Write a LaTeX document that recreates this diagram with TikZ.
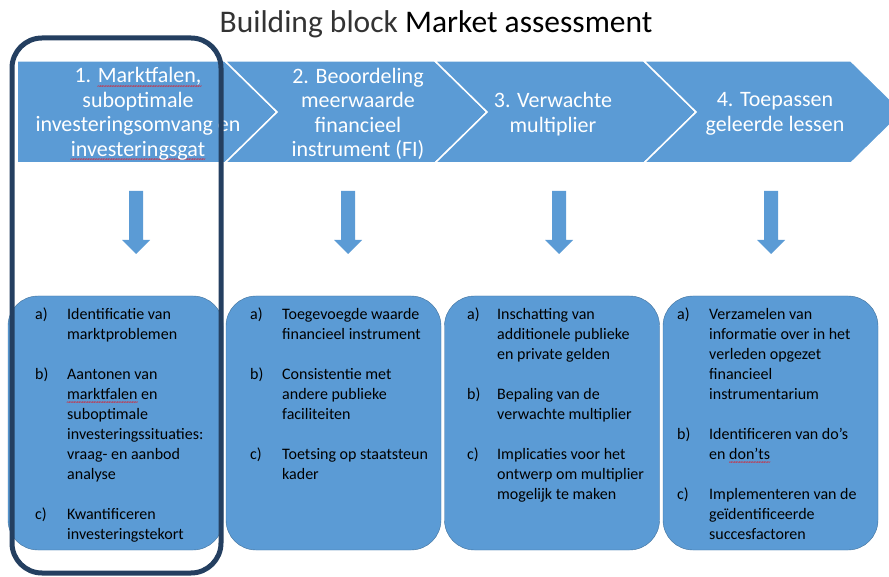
\documentclass[tikz,border=0pt]{standalone}
\usepackage{fontspec}
\setmainfont{Carlito}
\usepackage{tikz}
\usetikzlibrary{positioning}
\definecolor{blockblue}{RGB}{91,155,213}
\definecolor{blockedge}{RGB}{65,113,156}
\definecolor{framenavy}{RGB}{36,63,96}
% red wavy spell-check line under a word
\newcommand{\spellmark}[2]{\setbox0\hbox{\textcolor{#1}{#2}}\rlap{\textcolor{red}{\raisebox{-5.5pt}[0pt][0pt]{\hbox to \wd0{\xleaders\hbox{\fontsize{7}{7}\selectfont\kern-0.5pt\char`\~\kern-0.5pt}\hfill}}}}\box0\relax}

\begin{document}
\begin{tikzpicture}[x=1pt, y=-1pt,
				chevron/.style={fill=blockblue, draw=white, line width=1.5pt},
				steptext/.style={text=white, font=\fontsize{22}{24.5}\selectfont, align=center, inner sep=0pt},
				itembox/.style={draw=blockedge, fill=blockblue, rounded corners=30pt, minimum width=215pt, minimum height=254pt},
				itemtext/.style={anchor=north west, inner sep=0pt, font=\fontsize{16}{20}\selectfont},
				focus/.style={draw=framenavy, line width=5pt, rounded corners=30pt}]
				\useasboundingbox (0,0) rectangle (889,577);
				
				\node[font=\fontsize{31.5}{36}\selectfont, anchor=base](title) at (436,33) {\textcolor{black!80}{Building block} Market assessment};
				
				% process band
				\draw[chevron] (17,61) -- (225,61) -- (277,112) -- (225,163) -- (17,163) -- cycle;
				\foreach \a/\b in {225/435, 435/644, 644/851}
					\draw[chevron] (\a,61) -- (\b,61) -- (\b+52,112) -- (\b,163) -- (\a,163) -- (\a+52,112) -- cycle;
				
				\node[steptext](step1) at (138,114) {1. \spellmark{white}{Marktfalen,}\\suboptimale\\investeringsomvang en\\\spellmark{white}{investeringsgat}};
				\node[steptext](step2) at (358,114) {2. Beoordeling\\meerwaarde\\financieel\\instrument (FI)};
				\node[steptext](step3) at (553,114) {3. Verwachte\\multiplier};
				\node[steptext](step4) at (775,114) {4. Toepassen\\geleerde lessen};
				
				\foreach \x in {136, 348, 559, 771}
					\fill[blockblue] (\x-7,191) -- (\x+7,191) -- (\x+7,240) -- (\x+14,240) -- (\x,254) -- (\x-14,240) -- (\x-7,240) -- cycle;
				
				% boxes below
				\node[itembox](box1) at (115.5,423) {};
				\node[itembox](box2) at (333.5,423) {};
				\node[itembox](box3) at (552,423) {};
				\node[itembox](box4) at (770.5,423) {};
				
				\node[itemtext](list1) at (35,305) {\begin{tabular}{@{}p{32pt}@{}l@{}}
					a) & Identificatie van\\
					& marktproblemen\\[20pt]
					b) & Aantonen van\\
					& \spellmark{black}{marktfalen} en\\
					& suboptimale\\
					& investeringssituaties:\\
					& vraag- en aanbod\\
					& analyse\\[20pt]
					c) & Kwantificeren\\
					& investeringstekort
				\end{tabular}};
				\node[itemtext](list2) at (250,305) {\begin{tabular}{@{}p{32pt}@{}l@{}}
					a) & Toegevoegde waarde\\
					& financieel instrument\\[20pt]
					b) & Consistentie met\\
					& andere publieke\\
					& faciliteiten\\[20pt]
					c) & Toetsing op staatsteun\\
					& kader
				\end{tabular}};
				\node[itemtext](list3) at (467,305) {\begin{tabular}{@{}p{30pt}@{}l@{}}
					a) & Inschatting van\\
					& additionele publieke\\
					& en private gelden\\[20pt]
					b) & Bepaling van de\\
					& verwachte multiplier\\[20pt]
					c) & Implicaties voor het\\
					& ontwerp om multiplier\\
					& mogelijk te maken
				\end{tabular}};
				\node[itemtext](list4) at (677,305) {\begin{tabular}{@{}p{32pt}@{}l@{}}
					a) & Verzamelen van\\
					& informatie over in het\\
					& verleden opgezet\\
					& financieel\\
					& instrumentarium\\[20pt]
					b) & Identificeren van do’s\\
					& en \spellmark{black}{don’ts}\\[20pt]
					c) & Implementeren van de\\
					& geïdentificeerde\\
					& succesfactoren
				\end{tabular}};
				
				\draw[focus] (12,38) rectangle (221,573);
				
			\end{tikzpicture}
\end{document}
